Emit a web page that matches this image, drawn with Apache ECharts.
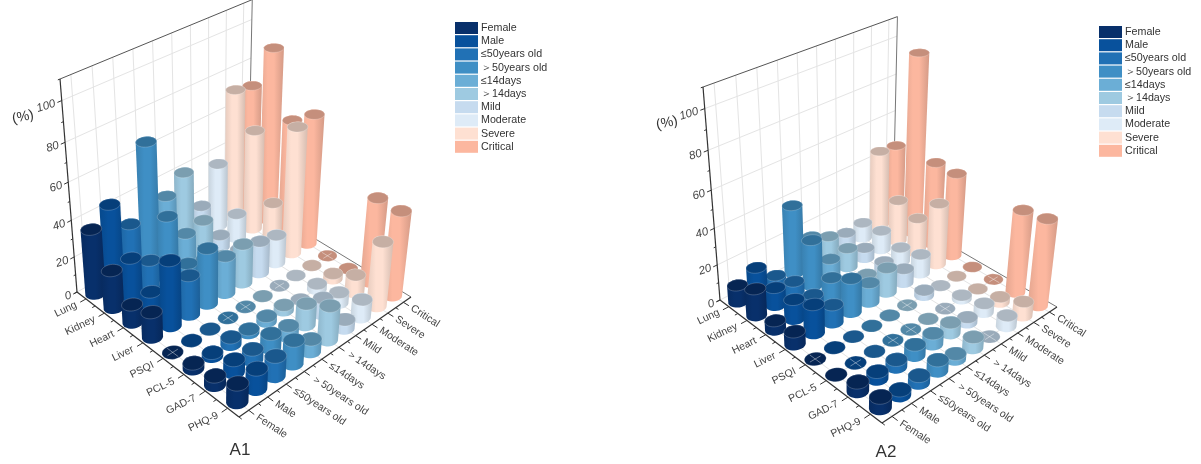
<!DOCTYPE html>
<html>
<head>
<meta charset="utf-8">
<style>html,body{margin:0;background:#fff}#main{width:1201px;height:464px}</style>
<script src="https://cdn.jsdelivr.net/npm/echarts@6/dist/echarts.min.js"></script>
</head>
<body>
<div id="main"></div>
<script>
const rowNames = ['Lung', 'Kidney', 'Heart', 'Liver', 'PSQI', 'PCL-5', 'GAD-7', 'PHQ-9'];
const colNames = ['Female', 'Male', '≤50years old', '＞50years old', '≤14days', '＞14days', 'Mild', 'Moderate', 'Severe', 'Critical'];
const colColors = ['#08306b', '#08519c', '#2171b5', '#3f8fc5', '#6baed6', '#9ecae1', '#c6dbef', '#deebf7', '#fee0d2', '#fcb79f'];
const zTicks = [0, 20, 40, 60, 80, 100];

const a1Lung = [36, 44, 28, 67, 33, 41, 17, 36, 72, 70];
const a1Kidney = [21, 22, 15, 34, 19, 21, 7, 14, 56, 95];
const a1Heart = [10, 11, 10, 15, 12, 8, 6, 3, 22, 63];
const a1Liver = [14, 36, 22, 31, 21, 22, 18, 16, 70, 72];
const a1Psqi = [0, 0, 0, 0, 0, 0, 0, 0, 0, 0];
const a1Pcl = [3, 2, 4, 2, 3, 3, 0, 3, 3, 0];
const a1Gad = [5, 7, 6, 8, 6, 12, 9, 6, 10, 47];
const a1Phq = [10, 11, 11, 13, 7, 19, 5, 10, 36, 47];
const a1Crossed = [[4, 0], [4, 3], [4, 4], [4, 6], [4, 9]];

const a2Lung = [9.5, 14, 4, 38.5, 16, 11, 8, 9, 46, 45];
const a2Kidney = [15, 10, 8, 26, 10, 11, 6, 11, 24, 100];
const a2Heart = [5, 11, 8, 12, 5, 3, 5, 8, 20, 47];
const a2Liver = [7, 16, 10, 19, 11, 14, 8, 11, 35, 47];
const a2Psqi = [0, 0, 0, 0, 0, 0, 3, 0, 0, 0];
const a2Pcl = [0, 0, 0, 0, 0, 0, 0, 2, 0, 0];
const a2Gad = [5, 4, 4, 6, 6, 6, 3, 5, 3, 46];
const a2Phq = [6, 3, 4, 6, 3, 6, 0, 6, 8, 48];
const a2Crossed = [[4, 0], [4, 5], [5, 1], [5, 3], [5, 4], [5, 6], [5, 9], [7, 6]];

const zMax = 110;
const chart = echarts.init(document.getElementById('main'));

// there is no 3D axis without echarts-gl, so each panel gets its own projection
function makeProjection (box) {
  const [x0, y0] = box.origin, [x1, y1] = box.front, [x2, y2] = box.right, [x3, y3] = box.back;
  const dx1 = x1 - x2, dx2 = x3 - x2, sx = x0 - x1 + x2 - x3;
  const dy1 = y1 - y2, dy2 = y3 - y2, sy = y0 - y1 + y2 - y3;
  const den = dx1 * dy2 - dx2 * dy1;
  const g = (sx * dy2 - dx2 * sy) / den, h = (dx1 * sy - sx * dy1) / den;
  const a = x1 - x0 + g * x1, b = x3 - x0 + h * x3;
  const d = y1 - y0 + g * y1, e = y3 - y0 + h * y3;
  const [vx, vy] = box.vanish;
  const s = (box.top - y0) / (vy - box.top) / zMax;
  return (u, v, z) => {
    const w = g * u + h * v + 1 + z * s;
    return [(a * u + b * v + x0 + z * s * vx) / w, (d * u + e * v + y0 + z * s * vy) / w];
  };
}

function hull (pts) {
  const p = pts.slice().sort((m, n) => m[0] - n[0] || m[1] - n[1]);
  const cross = (o, m, n) => (m[0] - o[0]) * (n[1] - o[1]) - (m[1] - o[1]) * (n[0] - o[0]);
  const half = list => {
    const out = [];
    list.forEach(q => {
      while (out.length > 1 && cross(out[out.length - 2], out[out.length - 1], q) <= 0) out.pop();
      out.push(q);
    });
    out.pop();
    return out;
  };
  return half(p).concat(half(p.reverse()));
}

function shade (color, k) {
  const c = echarts.color.parse(color);
  return 'rgb(' + Math.round(c[0] * k) + ',' + Math.round(c[1] * k) + ',' + Math.round(c[2] * k) + ')';
}

const rowU = i => echarts.number.linearMap(i + 0.5, [0, rowNames.length], [0, 1]);
const colV = j => echarts.number.linearMap(j + 0.5, [0, colNames.length], [0, 1]);

function cylinder (project, crossed, color, i, j, value) {
  // cell offsets that come out as the horizontal and vertical radius on screen
  const wideU = 0.215 / rowNames.length, wideV = 0.329 / colNames.length;
  const tallU = 0.236 / rowNames.length, tallV = -0.272 / colNames.length;
  const ring = z => {
    const pts = [];
    for (let t = 0; t < 32; t++) {
      const c = Math.cos(t / 32 * Math.PI * 2), s = Math.sin(t / 32 * Math.PI * 2);
      pts.push(project(rowU(i) + wideU * c + tallU * s, colV(j) + wideV * c + tallV * s, z));
    }
    return pts;
  };
  const order = (i - j + colNames.length) * 4;
  const children = [];
  if (value > 0) {
    children.push({
      type: 'polygon',
      z2: order,
      shape: { points: hull(ring(0).concat(ring(value))) },
      style: {
        fill: new echarts.graphic.LinearGradient(0, 0, 1, 0, [
          { offset: 0, color: shade(color, 0.9) },
          { offset: 0.35, color: color },
          { offset: 0.6, color: color },
          { offset: 1, color: shade(color, 0.84) }
        ])
      }
    });
  }
  children.push({
    type: 'polygon',
    z2: order + 1,
    shape: { points: ring(value) },
    style: { fill: shade(color, 0.78), stroke: 'rgba(255,255,255,0.3)', lineWidth: 0.7 }
  });
  if (crossed) {
    [[0.27, 0], [0, 0.27]].forEach(([du, dv]) => {
      const m = project(rowU(i) - du / rowNames.length, colV(j) - dv / colNames.length, value);
      const n = project(rowU(i) + du / rowNames.length, colV(j) + dv / colNames.length, value);
      children.push({
        type: 'line',
        z2: order + 2,
        shape: { x1: m[0], y1: m[1], x2: n[0], y2: n[1] },
        style: { stroke: 'rgba(255,255,255,0.5)', lineWidth: 0.8 }
      });
    });
  }
  return { type: 'group', children };
}

function frameItems (project) {
  const out = [];
  const seg = (p, q, stroke, lineWidth) => out.push({
    type: 'line',
    shape: { x1: p[0], y1: p[1], x2: q[0], y2: q[1] },
    style: { stroke, lineWidth }
  });
  const label = (p, text, rotation, textAlign, fontSize, fontStyle) => out.push({
    type: 'text',
    x: p[0],
    y: p[1],
    rotation,
    style: {
      text, textAlign, textVerticalAlign: 'middle', fontSize, fontStyle,
      fontFamily: 'Liberation Sans', fill: '#444'
    }
  });
  const gridGrey = '#e4e4e4', axisDark = '#333';

  rowNames.forEach((n, i) => seg(project(rowU(i), 0, 0), project(rowU(i), 1, 0), gridGrey, 1));
  colNames.forEach((n, j) => {
    seg(project(0, colV(j), 0), project(1, colV(j), 0), gridGrey, 1);
    seg(project(0, colV(j), 0), project(0, colV(j), zMax), gridGrey, 1);
  });
  zTicks.forEach(z => seg(project(0, 0, z), project(0, 1, z), gridGrey, 1));

  seg(project(0, 0, zMax), project(0, 1, zMax), '#555', 1);
  seg(project(0, 1, 0), project(0, 1, zMax), '#777', 1);
  seg(project(0, 1, 0), project(1, 1, 0), '#777', 1);
  seg(project(0, 0, 0), project(1, 0, 0), axisDark, 1.2);
  seg(project(1, 0, 0), project(1, 1, 0), axisDark, 1.2);
  seg(project(0, 0, 0), project(0, 0, zMax), axisDark, 1.2);

  rowNames.forEach((n, i) => {
    seg(project(rowU(i), 0, 0), project(rowU(i), -0.03, 0), axisDark, 1);
    seg(project(i / rowNames.length, 0, 0), project(i / rowNames.length, -0.015, 0), axisDark, 1);
    label(project(rowU(i), -0.05, 0), n, 0.45, 'right', 10.5);
  });
  colNames.forEach((n, j) => {
    seg(project(1, colV(j), 0), project(1.03, colV(j), 0), axisDark, 1);
    seg(project(1, j / colNames.length, 0), project(1.015, j / colNames.length, 0), axisDark, 1);
    label(project(1.045, colV(j), 0), n, -0.58, 'left', 10.5);
  });
  zTicks.forEach(z => {
    seg(project(0, 0, z), project(0, -0.02, z), axisDark, 1);
    seg(project(0, 0, z + 10), project(0, -0.01, z + 10), axisDark, 1);
    label(project(0, -0.03, z), String(z), 0.3, 'right', 11.5, 'italic');
  });
  return out;
}

const panels = [
  {
    box: { origin: [77, 292], front: [239, 417], right: [411, 297], back: [248, 198], vanish: [210, 1960], top: 79 },
    rows: [a1Lung, a1Kidney, a1Heart, a1Liver, a1Psqi, a1Pcl, a1Gad, a1Phq],
    crossed: a1Crossed,
    title: 'A1', titlePos: [240, 450], unitPos: [23, 117]
  },
  {
    box: { origin: [720, 300], front: [882, 423], right: [1057, 307], back: [893, 212], vanish: [853, 1968], top: 87 },
    rows: [a2Lung, a2Kidney, a2Heart, a2Liver, a2Psqi, a2Pcl, a2Gad, a2Phq],
    crossed: a2Crossed,
    title: 'A2', titlePos: [886, 452], unitPos: [667, 123]
  }
];

const series = [];
panels.forEach(panel => {
  const project = makeProjection(panel.box);
  series.push({
    type: 'custom',
    coordinateSystem: 'none',
    silent: true,
    z: 1,
    data: [[0]],
    renderItem: () => ({ type: 'group', children: frameItems(project) })
  });
  colNames.forEach((name, j) => {
    series.push({
      type: 'custom',
      name,
      coordinateSystem: 'none',
      silent: true,
      z: 2,
      itemStyle: { color: colColors[j] },
      data: panel.rows.map((row, i) => [i, j, row[j]]),
      renderItem: (params, api) => {
        const i = api.value(0), c = api.value(1);
        const crossed = panel.crossed.some(q => q[0] === i && q[1] === c);
        return cylinder(project, crossed, colColors[c], i, c, api.value(2));
      }
    });
  });
});

const legendBase = {
  orient: 'vertical',
  icon: 'rect',
  itemWidth: 23,
  itemHeight: 12,
  itemGap: 1.2,
  selectedMode: false,
  padding: 0,
  textStyle: { fontFamily: 'Liberation Sans', fontSize: 10.7, color: '#333', lineHeight: 12, padding: [0, 0, 0, -2] },
  data: colNames
};

chart.setOption({
  animation: false,
  backgroundColor: '#fff',
  legend: [
    Object.assign({ left: 455, top: 22 }, legendBase),
    Object.assign({ left: 1099, top: 26 }, legendBase)
  ],
  graphic: panels.flatMap(panel => [
    {
      type: 'text', x: panel.titlePos[0], y: panel.titlePos[1],
      style: { text: panel.title, textAlign: 'center', textVerticalAlign: 'middle', fontSize: 17, fontFamily: 'Liberation Sans', fill: '#333' }
    },
    {
      type: 'text', x: panel.unitPos[0], y: panel.unitPos[1], rotation: 0.2,
      style: { text: '(%)', textAlign: 'center', textVerticalAlign: 'middle', fontSize: 14, fontFamily: 'Liberation Sans', fill: '#333' }
    }
  ]),
  series
});
</script>
</body>
</html>
